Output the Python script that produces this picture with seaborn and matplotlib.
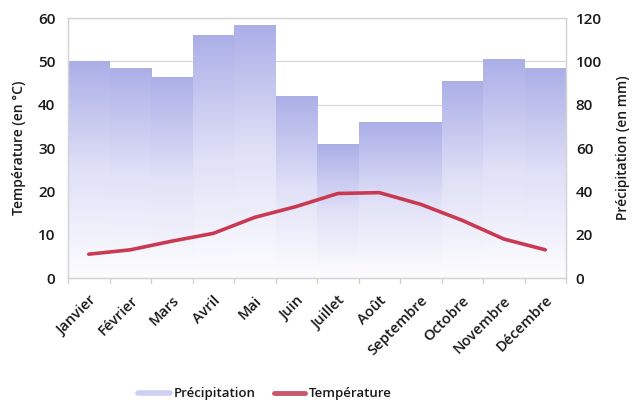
import numpy as np
import pandas as pd
import matplotlib
matplotlib.use("Agg")
import matplotlib.pyplot as plt
from matplotlib.colors import LinearSegmentedColormap
from matplotlib.lines import Line2D
import seaborn as sns

# Monthly climate data
months = ["Janvier", "Février", "Mars", "Avril", "Mai", "Juin", "Juillet",
          "Août", "Septembre", "Octobre", "Novembre", "Décembre"]
precipitation = [100, 97, 93, 112, 117, 84, 62, 72, 72, 91, 101, 97]   # mm
temperature = [5.5, 6.5, 8.5, 10.3, 14, 16.5, 19.5, 19.7, 17, 13.3, 9, 6.5]  # °C

df = pd.DataFrame({"Mois": months, "Précipitation": precipitation,
                   "Température": temperature})

sns.set_theme(style="white")
plt.rcParams["font.family"] = ["Open Sans", "DejaVu Sans"]
text_color = "#1a1a1a"
weight = "semibold"

fig = plt.figure(figsize=(6.36, 4.0), dpi=100)
ax = fig.add_axes([0.107, 0.305, 0.783, 0.65])
ax2 = ax.twinx()

# Precipitation bars on the secondary (right) axis
sns.barplot(data=df, x="Mois", y="Précipitation", ax=ax2, width=1.0,
            color="#aab0e8", saturation=1, edgecolor="none")

# Vertical gradient fill for each bar
grad_cmap = LinearSegmentedColormap.from_list(
    "bar_grad", ["#fdfdff", "#e0e0f7", "#abafe7"])
gradient = np.linspace(0, 1, 256).reshape(-1, 1)
for patch in list(ax2.patches):
    x0, y0 = patch.get_x(), patch.get_y()
    w, h = patch.get_width(), patch.get_height()
    patch.set_facecolor("none")
    im = ax2.imshow(gradient, cmap=grad_cmap, origin="lower", aspect="auto",
                    extent=[x0, x0 + w, y0, y0 + h], zorder=1,
                    interpolation="bilinear")
    im.set_clip_path(patch)

ax2.set_xlim(-0.5, len(months) - 0.5)
ax2.set_ylim(0, 120)
ax2.set_yticks(np.arange(0, 121, 20))
ax2.set_ylabel("Précipitation (en mm)", fontsize=10, color=text_color,
               labelpad=10, fontweight=weight)
ax2.tick_params(axis="y", labelsize=11, colors=text_color, length=0, pad=7)
for t in ax2.get_yticklabels():
    t.set_fontweight(weight)

# Temperature line on the primary (left) axis, drawn above the bars
sns.lineplot(x=np.arange(len(months)), y=temperature, ax=ax,
             color="#c93a52", linewidth=2.6)
ax.set_zorder(ax2.get_zorder() + 1)
ax.patch.set_visible(False)
ax2.patch.set_facecolor("white")

ax.set_xlim(-0.5, len(months) - 0.5)
ax.set_ylim(0, 60)
ax.set_yticks(np.arange(0, 61, 10))
ax.set_ylabel("Température (en °C)", fontsize=10, color=text_color,
              labelpad=9, fontweight=weight)
ax.tick_params(axis="y", labelsize=11, colors=text_color, length=0, pad=9)
for t in ax.get_yticklabels():
    t.set_fontweight(weight)

ax.set_xticks(np.arange(len(months)))
ax.set_xticklabels(months, rotation=45, ha="right", rotation_mode="anchor",
                   fontsize=10.5, color=text_color, fontweight=weight)
ax.tick_params(axis="x", length=0, pad=11)
ax.set_xlabel("")
ax2.set_xlabel("")

# Grid lines under the bars, boundary ticks on the category axis
ax2.set_axisbelow(True)
for v in np.arange(20, 121, 20):
    ax2.axhline(v, color="#d9d9d9", linewidth=0.9, zorder=0)
for b in np.arange(-0.5, len(months) + 0.5, 1):
    ax.plot([b, b], [0, -1.2], color="#cfcfcf", linewidth=0.9, clip_on=False)

for spine in list(ax.spines.values()) + list(ax2.spines.values()):
    spine.set_color("#d4d4d4")
    spine.set_linewidth(0.9)

# Legend below the chart
handles = [Line2D([0], [0], color="#cdcff3", linewidth=4),
           Line2D([0], [0], color="#c9566c", linewidth=3.5)]
leg = fig.legend(handles, ["Précipitation", "Température"], loc="lower center",
                 bbox_to_anchor=(0.417, -0.03), ncol=2, frameon=False,
                 fontsize=9.5, handlelength=2.4, handletextpad=0.3,
                 columnspacing=1.35, labelcolor=text_color)
for t in leg.get_texts():
    t.set_fontweight(weight)

fig.savefig("out.png", dpi=100, facecolor="white")
